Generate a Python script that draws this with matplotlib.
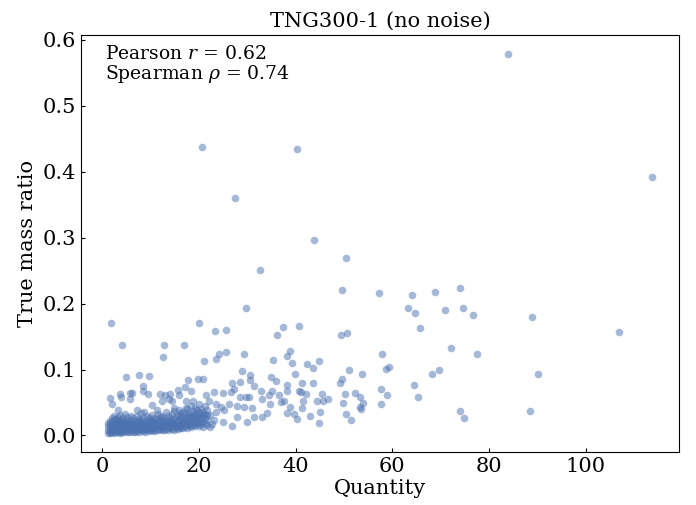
import numpy as np
import matplotlib
matplotlib.use("Agg")
import matplotlib.pyplot as plt

# values
# isolated points well above the main band
high_x = [20.7, 40.3, 27.5, 43.8, 50.5, 32.6, 49.6, 57.3, 29.8, 1.8, 20.0, 40.7,
          37.3, 23.3, 25.7, 36.1, 49.3, 50.7, 4.2, 12.7, 16.9, 12.6, 24.1, 25.7,
          23.5, 29.3, 38.8, 38.3, 57.9, 84.0, 113.7, 73.9, 64.1, 68.8, 63.2, 64.6,
          70.9, 74.7, 76.6, 88.8, 106.9, 65.7, 72.2, 77.4]
high_y = [0.438, 0.435, 0.360, 0.297, 0.270, 0.251, 0.221, 0.216, 0.194, 0.171, 0.170, 0.166,
          0.165, 0.159, 0.160, 0.152, 0.152, 0.155, 0.137, 0.138, 0.137, 0.119, 0.124, 0.126,
          0.116, 0.124, 0.128, 0.121, 0.124, 0.579, 0.392, 0.224, 0.213, 0.217, 0.194, 0.186,
          0.191, 0.193, 0.183, 0.179, 0.157, 0.163, 0.132, 0.124]

# scattered points between the band and the outliers
mid_x = [21.1, 35.4, 39.2, 29.0, 39.9, 30.6, 30.6, 34.9, 4.9, 7.7, 9.6, 19.8, 20.9, 17.7,
         26.9, 28.4, 36.0, 31.3,
         42.3, 43.6, 44.8, 51.0, 53.8, 58.6, 59.3, 49.6,
         41.4, 41.2, 41.6, 43.6, 45.5, 44.5, 45.7, 46.7, 49.1, 50.2, 49.7, 52.2, 53.3,
         53.9, 53.4, 53.6, 57.7, 58.8, 57.7, 41.4, 42.9, 45.1, 44.9, 50.5, 51.4,
         64.5, 65.4, 68.1, 69.7, 90.2, 74.0, 74.9, 88.4,
         21.4, 23.1, 24.9, 22.1, 23.5, 24.5, 25.2, 26.2, 26.6, 27.3, 28.6, 29.7, 30.4,
         27.9, 29.3, 31.0, 31.4, 30.0, 26.9, 24.9, 23.1, 22.4, 27.9, 32.9, 33.1, 34.5,
         35.2, 34.8, 34.1, 33.1, 36.6, 36.9, 37.6, 38.3, 38.3, 38.9, 39.6, 40.2, 40.7,
         38.3, 42.1,
         1.7, 2.1, 3.6, 3.9, 5.8, 6.1, 5.7, 8.4, 8.4, 9.4, 11.9, 12.3, 12.9, 14.0,
         15.6, 15.8, 17.2, 18.3, 10.4, 13.8, 14.5, 17.3, 18.7, 3.2, 7.3, 8.7, 11.4,
         14.9, 15.9, 17.3, 22.3, 22.8, 23.6]
mid_y = [0.113, 0.114, 0.110, 0.098, 0.093, 0.091, 0.084, 0.088, 0.089, 0.091, 0.090, 0.086, 0.086, 0.084,
         0.080, 0.081, 0.082, 0.075,
         0.108, 0.103, 0.113, 0.100, 0.093, 0.101, 0.104, 0.085,
         0.079, 0.066, 0.053, 0.079, 0.063, 0.052, 0.053, 0.056, 0.079, 0.063, 0.050, 0.065, 0.058,
         0.049, 0.043, 0.040, 0.071, 0.062, 0.048, 0.041, 0.029, 0.035, 0.019, 0.032, 0.024,
         0.076, 0.058, 0.094, 0.100, 0.094, 0.037, 0.026, 0.037,
         0.061, 0.066, 0.064, 0.053, 0.048, 0.043, 0.039, 0.048, 0.066, 0.071, 0.059, 0.058, 0.059,
         0.044, 0.043, 0.042, 0.028, 0.020, 0.014, 0.020, 0.023, 0.013, 0.028, 0.067, 0.056, 0.061,
         0.068, 0.048, 0.034, 0.028, 0.061, 0.051, 0.053, 0.076, 0.068, 0.043, 0.033, 0.025, 0.068,
         0.034, 0.063,
         0.057, 0.047, 0.063, 0.058, 0.064, 0.065, 0.056, 0.075, 0.068, 0.063, 0.063, 0.053, 0.061, 0.063,
         0.069, 0.061, 0.073, 0.068, 0.046, 0.056, 0.053, 0.053, 0.053, 0.038, 0.038, 0.036, 0.038,
         0.041, 0.038, 0.042, 0.031, 0.018, 0.035]

# dense band at low quantity: column positions and the ratios in each column
core_x = [1.2, 1.6, 2.0, 2.4, 2.8, 3.2, 3.6, 4.0, 4.4, 4.8, 5.2, 5.6, 6.0, 6.4, 6.8,
          7.2, 7.6, 8.0, 8.4, 8.8, 9.2, 9.6, 10.0, 10.4, 10.8, 11.2, 11.6, 12.0, 12.4,
          12.8, 13.2, 13.6, 14.0, 14.4, 14.8, 15.2, 15.6, 16.0, 16.4, 16.8, 17.2, 17.6,
          18.0, 18.4, 18.8, 19.2, 19.6, 20.0, 20.4, 20.8, 21.2, 21.6]
core_y = [
    [0.004, 0.009, 0.014, 0.019],
    [0.006, 0.011, 0.016, 0.022, 0.003],
    [0.005, 0.010, 0.015, 0.020, 0.026, 0.008],
    [0.004, 0.012, 0.017, 0.023, 0.030, 0.007],
    [0.006, 0.010, 0.014, 0.019, 0.025, 0.012],
    [0.005, 0.009, 0.013, 0.018, 0.022, 0.028],
    [0.007, 0.011, 0.016, 0.020, 0.031, 0.004],
    [0.006, 0.010, 0.014, 0.019, 0.024],
    [0.005, 0.012, 0.017, 0.021, 0.027, 0.009],
    [0.007, 0.011, 0.015, 0.020, 0.033],
    [0.006, 0.009, 0.013, 0.018, 0.023, 0.028],
    [0.005, 0.010, 0.016, 0.021, 0.012],
    [0.007, 0.012, 0.017, 0.024, 0.030],
    [0.006, 0.010, 0.014, 0.019, 0.026],
    [0.008, 0.013, 0.018, 0.022, 0.005],
    [0.007, 0.011, 0.016, 0.021, 0.029],
    [0.006, 0.010, 0.015, 0.020, 0.025],
    [0.008, 0.012, 0.017, 0.023, 0.034],
    [0.007, 0.011, 0.014, 0.019, 0.027],
    [0.006, 0.010, 0.016, 0.021],
    [0.008, 0.013, 0.018, 0.024, 0.030],
    [0.007, 0.011, 0.015, 0.020, 0.026],
    [0.009, 0.014, 0.019, 0.023],
    [0.008, 0.012, 0.017, 0.022, 0.031],
    [0.007, 0.011, 0.016, 0.020, 0.027],
    [0.009, 0.014, 0.019, 0.025],
    [0.008, 0.013, 0.018, 0.022, 0.033],
    [0.010, 0.015, 0.020, 0.028],
    [0.009, 0.012, 0.017, 0.023, 0.030],
    [0.008, 0.014, 0.019, 0.026],
    [0.010, 0.016, 0.021, 0.035],
    [0.009, 0.013, 0.018, 0.024, 0.029],
    [0.011, 0.015, 0.020, 0.027],
    [0.010, 0.017, 0.022, 0.032],
    [0.009, 0.014, 0.019, 0.025, 0.037],
    [0.012, 0.016, 0.021, 0.028],
    [0.010, 0.015, 0.023, 0.031],
    [0.013, 0.018, 0.026, 0.034],
    [0.011, 0.016, 0.021, 0.029],
    [0.012, 0.019, 0.024, 0.036],
    [0.014, 0.020, 0.027, 0.032],
    [0.011, 0.017, 0.023, 0.030, 0.040],
    [0.015, 0.021, 0.028, 0.034],
    [0.013, 0.018, 0.025, 0.031, 0.045],
    [0.016, 0.022, 0.029, 0.037],
    [0.014, 0.020, 0.026, 0.033, 0.042],
    [0.017, 0.024, 0.030, 0.038],
    [0.015, 0.021, 0.028, 0.035, 0.047],
    [0.018, 0.025, 0.032, 0.040],
    [0.013, 0.022, 0.029, 0.036],
    [0.019, 0.026, 0.033, 0.044],
    [0.016, 0.023, 0.031, 0.038],
]

title = "TNG300-1 (no noise)"
pearson_r = 0.62
spearman_rho = 0.74


def collect_points():
    cx = [x for x, col in zip(core_x, core_y) for _ in col]
    cy = [y for col in core_y for y in col]
    qty = np.array(high_x + mid_x + cx)
    ratio = np.array(high_y + mid_y + cy)
    return qty, ratio


def main():
    plt.rcParams['font.family'] = ['DejaVu Serif']
    plt.rcParams['mathtext.fontset'] = 'dejavuserif'

    qty, ratio = collect_points()

    fig, ax = plt.subplots(figsize=(6.96, 5.05), dpi=100)
    fig.subplots_adjust(left=0.116, right=0.976, top=0.931, bottom=0.104)

    ax.scatter(qty, ratio, s=30, color='#4C72B0', alpha=0.5, linewidths=0)

    ax.set_title(title, fontsize=15)
    ax.set_xlabel("Quantity", fontsize=15, labelpad=2)
    ax.set_ylabel("True mass ratio", fontsize=15)
    ax.tick_params(direction='in', labelsize=15, length=3, top=False, right=False)
    ax.set_xticks([0, 20, 40, 60, 80, 100])
    ax.set_yticks([0.0, 0.1, 0.2, 0.3, 0.4, 0.5, 0.6])

    ax.text(0.04, 0.975, "Pearson $r$ = %.2f\nSpearman $\\rho$ = %.2f" % (pearson_r, spearman_rho),
            transform=ax.transAxes, ha='left', va='top', fontsize=13.5, linespacing=1.0)

    fig.savefig("out.png", dpi=100)


if __name__ == "__main__":
    main()
